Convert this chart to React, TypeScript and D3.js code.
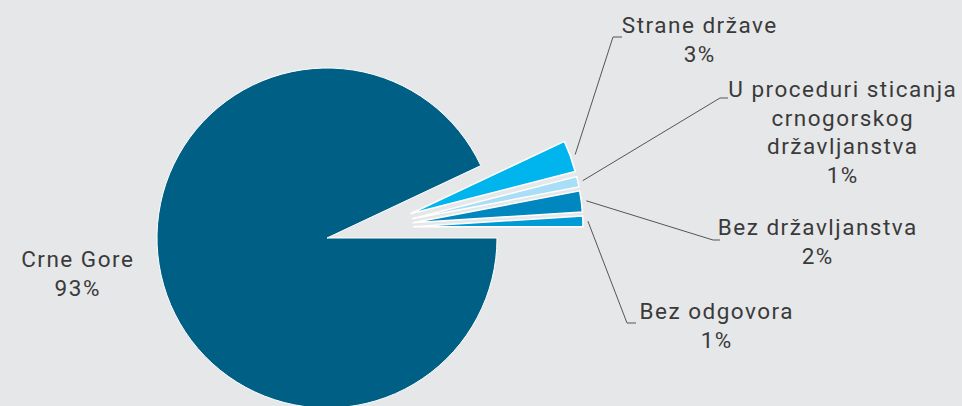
import React from "react";
import * as d3 from "d3";

const categories = ["Crne Gore", "Strane države", "U proceduri sticanja crnogorskog državljanstva", "Bez državljanstva", "Bez odgovora"];
const values = [93, 3, 1, 2, 1];
const labelLines = [
  ["Crne Gore", "93%"],
  ["Strane države", "3%"],
  ["U proceduri sticanja", "crnogorskog", "državljanstva", "1%"],
  ["Bez državljanstva", "2%"],
  ["Bez odgovora", "1%"],
];
const colors = ["#005F85", "#00B5EE", "#A9DEF7", "#0087BF", "#009AD6"];

const W = 962, H = 406;
const CX = 327, CY = 238, R = 170;
const GROUP_SHIFT: [number, number] = [44, -10];
const EXPLODE = 42;
// label anchor (text centre x, first baseline y) and elbow end
const labelPos = [
  { x: 77, y: 267, elbow: null as null | [number, number], end: null as null | [number, number] },
  { x: 699, y: 33, elbow: [613, 37], end: [622, 37] },
  { x: 842, y: 97, elbow: [720, 98], end: [728, 98] },
  { x: 817, y: 235, elbow: [713, 240], end: [720, 240] },
  { x: 716, y: 319, elbow: [627, 323], end: [636, 323] },
];
const LINE_H = 28.5;
const LS = 1.5;

export default function App() {
  const pie = d3
    .pie<number>()
    .sort(null)
    .value((d) => d)
    .startAngle(Math.PI / 2 - 2 * Math.PI)
    .endAngle(Math.PI / 2);
  const arcs = pie(values);
  const arcGen = d3.arc<d3.PieArcDatum<number>>().innerRadius(0).outerRadius(R);

  const offsets = arcs.map((a, i) => {
    if (i === 0) return [0, 0];
    const mid = (a.startAngle + a.endAngle) / 2;
    return [GROUP_SHIFT[0] + EXPLODE * Math.sin(mid), GROUP_SHIFT[1] - EXPLODE * Math.cos(mid)];
  });

  return (
    <svg
      width={W}
      height={H}
      style={{ position: "absolute", left: 0, top: 0, background: "#E6E7E9" }}
      fontFamily="Roboto, sans-serif"
    >
      <rect width={W} height={H} fill="#E6E7E9" />
      {arcs.map((a, i) => (
        <path
          key={categories[i]}
          d={arcGen(a) || ""}
          transform={`translate(${CX + offsets[i][0]},${CY + offsets[i][1]})`}
          fill={colors[i]}
          stroke="#fff"
          strokeWidth={i === 0 ? 1 : 1.5}
          strokeLinejoin="miter"
        />
      ))}
      {arcs.map((a, i) => {
        const lp = labelPos[i];
        if (!lp.elbow || !lp.end) return null;
        const mid = (a.startAngle + a.endAngle) / 2;
        const r = R + 5;
        const sx = CX + offsets[i][0] + r * Math.sin(mid);
        const sy = CY + offsets[i][1] - r * Math.cos(mid);
        return (
          <polyline
            key={"l" + i}
            points={`${sx},${sy} ${lp.elbow[0]},${lp.elbow[1]} ${lp.end[0]},${lp.end[1]}`}
            fill="none"
            stroke="#555"
            strokeWidth={1}
          />
        );
      })}
      {labelLines.map((lines, i) => (
        <text
          key={"t" + i}
          x={labelPos[i].x}
          y={labelPos[i].y}
          textAnchor="middle"
          fontSize={22.5}
          letterSpacing={LS}
          fill="#3A3A3A"
        >
          {lines.map((ln, j) => (
            <tspan key={j} x={labelPos[i].x + LS / 2} y={labelPos[i].y + j * LINE_H}>
              {ln}
            </tspan>
          ))}
        </text>
      ))}
    </svg>
  );
}
